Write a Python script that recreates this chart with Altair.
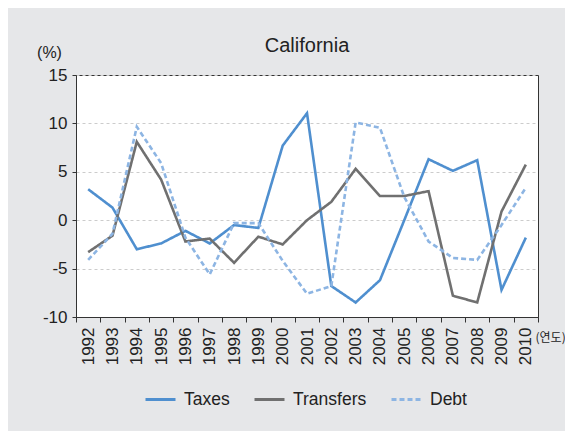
import altair as alt
import pandas as pd

years = [str(y) for y in range(1992, 2011)]
taxes = [3.2, 1.3, -3.0, -2.4, -1.1, -2.4, -0.5, -0.8, 7.7, 11.05, -6.8, -8.5, -6.2, 0.0, 6.3, 5.1, 6.2, -7.2, -1.8]
transfers = [-3.3, -1.6, 8.1, 4.2, -2.2, -1.9, -4.4, -1.7, -2.5, 0.0, 1.9, 5.3, 2.5, 2.5, 3.0, -7.8, -8.5, 0.9, 5.75]
debt = [-4.1, -1.4, 9.65, 5.9, -1.8, -5.6, -0.3, -0.3, -4.2, -7.6, -6.8, 10.1, 9.55, 2.4, -2.2, -3.9, -4.1, -0.5, 3.35]

series = ["Taxes", "Transfers", "Debt"]
colors = ["#4f8fcf", "#707070", "#8db5e3"]
dashes = [[1, 0], [1, 0], [5, 3]]

rows = []
for name, vals in zip(series, [taxes, transfers, debt]):
    for y, v in zip(years, vals):
        rows.append({"year": y, "value": v, "series": name})
df = pd.DataFrame(rows)

FONT = "Liberation Sans"

legend_opts = dict(title=None, orient="none", direction="horizontal",
                   legendX=68, legendY=308,
                   symbolType="stroke", symbolSize=900, symbolStrokeWidth=3,
                   labelFont=FONT, labelFontSize=17.5, labelColor="#222222",
                   columnPadding=18, labelOffset=7)

chart = alt.Chart(df).mark_line(strokeWidth=2.6).encode(
    x=alt.X("year:N", bandPosition=0.5,
            scale=alt.Scale(type="band", paddingInner=0, paddingOuter=0),
            axis=alt.Axis(title="(연도)", titleAngle=0, titleAlign="left", titleBaseline="middle",
                          titleX=459, titleY=20, titleFont="Noto Sans CJK KR", titleFontSize=12,
                          titleFontWeight="normal", titleColor="#222222",
                          labelAngle=-90, labelFontSize=17, labelFont=FONT, labelColor="#222222",
                          labelPadding=5, tickBand="extent", tickSize=5, tickColor="#333333",
                          domainColor="#333333", grid=False)),
    y=alt.Y("value:Q",
            scale=alt.Scale(domain=[-10, 15], nice=False, zero=False),
            axis=alt.Axis(values=[-10, -5, 0, 5, 10, 15], title="(%)", titleAngle=0,
                          labelExpr="'' + datum.value",
                          titleAlign="center", titleBaseline="middle", titleX=-27, titleY=-23,
                          titleFont=FONT, titleFontSize=16, titleFontWeight="normal", titleColor="#222222",
                          labelFontSize=17, labelFont=FONT, labelColor="#222222", labelPadding=5,
                          tickSize=4, tickColor="#333333", domainColor="#333333",
                          grid=True, gridColor="#cccccc", gridDash=[3, 3], gridWidth=1)),
    color=alt.Color("series:N", scale=alt.Scale(domain=series, range=colors),
                    legend=alt.Legend(**legend_opts)),
    strokeDash=alt.StrokeDash("series:N", scale=alt.Scale(domain=series, range=dashes),
                              legend=alt.Legend(**legend_opts)),
).properties(
    width=462, height=242,
    title=alt.TitleParams("California", font=FONT, fontSize=20, fontWeight="normal",
                          color="#222222", anchor="middle", offset=-12),
    background="#e6e7e9",
    autosize=alt.AutoSizeParams(type="none"),
    padding={"left": 68, "top": 67, "right": 27, "bottom": 114},
).configure_view(stroke="#333333", strokeWidth=1, fill="white")

chart.save("out.html", embed_options={"renderer": "svg", "actions": False})
